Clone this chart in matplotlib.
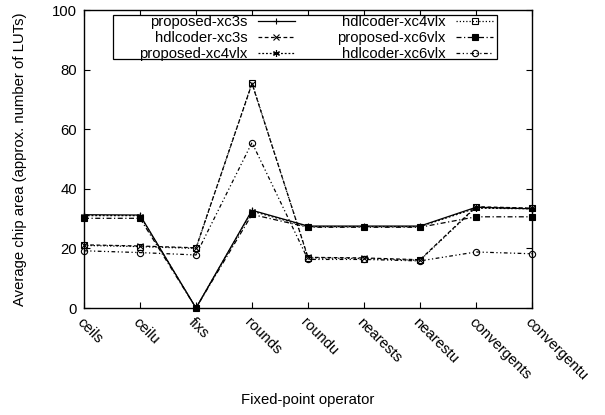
import matplotlib
matplotlib.use("Agg")
import matplotlib.pyplot as plt
from matplotlib.patches import Rectangle

categories = ["ceils", "ceilu", "fixs", "rounds", "roundu", "nearests",
              "nearestu", "convergents", "convergentu"]

proposed_xc3s = [31.3, 31.2, 0.0, 32.8, 27.5, 27.5, 27.5, 33.8, 33.3]
hdlcoder_xc3s = [21.2, 20.8, 20.2, 75.3, 17.0, 16.8, 16.2, 34.0, 33.5]
proposed_xc4vlx = [31.0, 31.0, 0.0, 32.5, 27.3, 27.3, 27.3, 33.5, 33.3]
hdlcoder_xc4vlx = [21.0, 20.6, 20.0, 75.5, 16.8, 16.6, 16.0, 33.8, 33.4]
proposed_xc6vlx = [30.1, 30.1, 0.0, 31.4, 27.1, 27.1, 27.1, 30.6, 30.6]
hdlcoder_xc6vlx = [19.2, 18.6, 17.8, 55.5, 16.3, 16.3, 15.8, 18.8, 18.2]

yticks = [0, 20, 40, 60, 80, 100]

plt.rcParams['font.family'] = ['Liberation Sans', 'DejaVu Sans']
FS = 10.7

fig = plt.figure(figsize=(6.05, 4.15), dpi=100)
ax = fig.add_axes([84/605, 1 - 308/415, (532-84)/605, (308-10)/415])

x = list(range(len(categories)))
series = [
    ("proposed-xc3s", proposed_xc3s, dict(ls='-', marker='+', ms=5, mfc='black')),
    ("hdlcoder-xc3s", hdlcoder_xc3s, dict(ls=(0, (3, 2)), marker='x', ms=4)),
    ("proposed-xc4vlx", proposed_xc4vlx, dict(ls=(0, (1.5, 1.5)), marker=(6, 2, 0), ms=5)),
    ("hdlcoder-xc4vlx", hdlcoder_xc4vlx, dict(ls=(0, (1, 1.6)), marker='s', ms=4.5, mfc='none')),
    ("proposed-xc6vlx", proposed_xc6vlx, dict(ls=(0, (4, 2, 1, 2)), marker='s', ms=5, mfc='black')),
    ("hdlcoder-xc6vlx", hdlcoder_xc6vlx, dict(ls=(0, (3, 2, 1, 2, 1, 2)), marker='o', ms=4.5, mfc='none')),
]
handles = []
for name, vals, st in series:
    ln, = ax.plot(x, vals, color='black', lw=0.9, mec='black', mew=0.8, label=name,
                  clip_on=False, **st)
    handles.append(ln)

ax.set_xlim(0, len(categories) - 1)
ax.set_ylim(0, 100)
ax.set_yticks(yticks)
ax.set_xticks(x)
ax.set_xticklabels(categories, rotation=-45, ha='left', va='top',
                   rotation_mode='anchor', fontsize=FS)
ax.tick_params(axis='both', direction='in', length=4, width=0.8, top=True,
               right=True, labelsize=FS, pad=5)
for sp in ax.spines.values():
    sp.set_linewidth(1.0)

ax.set_xlabel("Fixed-point operator", fontsize=FS)
ax.xaxis.set_label_coords(0.5, -0.285)
ax.set_ylabel("Average chip area (approx. number of LUTs)", fontsize=FS)
ax.yaxis.set_label_coords(-0.128, 0.5)

leg = ax.legend(handles=handles, ncol=2, markerfirst=False, frameon=False,
                loc='upper left', bbox_to_anchor=(139/605, 1 - 15/415),
                bbox_transform=fig.transFigure, fontsize=FS,
                handlelength=2.5, handletextpad=0.7, columnspacing=2.85,
                labelspacing=0.15, borderpad=0.0, borderaxespad=0.0)
leg.set_zorder(6)
frame = Rectangle((113/605, 1 - 59/415), (497-113)/605, (59-15)/415,
                  transform=fig.transFigure, facecolor='white',
                  edgecolor='black', lw=0.9, zorder=5.5, clip_on=False)
ax.add_artist(frame)

fig.savefig("out.png", dpi=100)
